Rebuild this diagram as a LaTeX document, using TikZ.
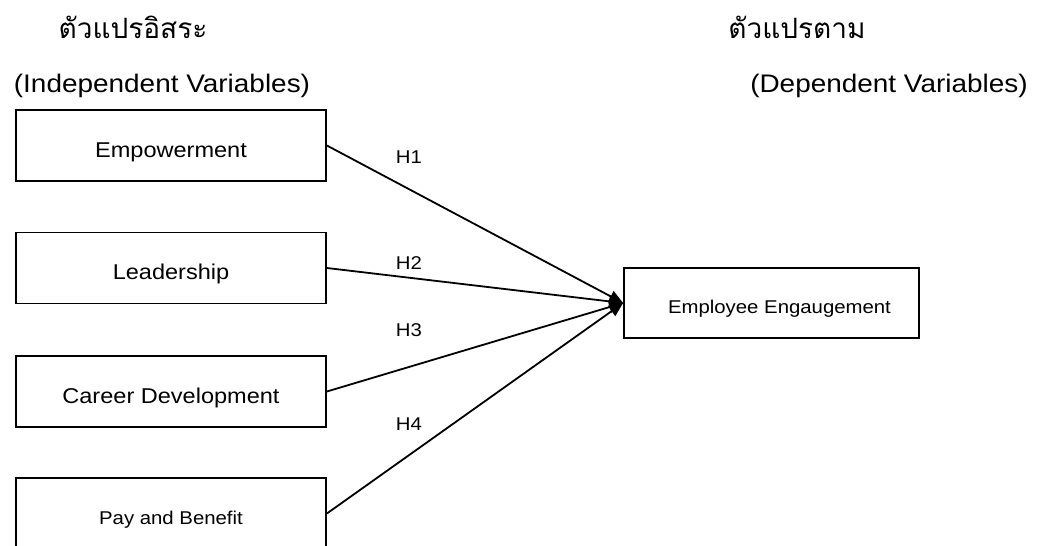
\documentclass[tikz,border=0pt]{standalone}
\usepackage{fontspec}
\setmainfont{Liberation Sans}[FakeStretch=1.1]
\newfontfamily\thaifont[Script=Thai]{Loma}
\usetikzlibrary{arrows.meta}
\begin{document}
\begin{tikzpicture}[x=1pt,y=-1pt,
  varbox/.style={draw, line width=1.8pt, inner sep=0pt, minimum width=310pt, minimum height=71pt, text depth=0pt},
  bigtxt/.style={font=\fontsize{21.4}{25}\selectfont, text height=23pt},
  smalltxt/.style={font=\fontsize{18.5}{22}\selectfont, text height=21pt},
  headtxt/.style={font=\fontsize{25.4}{30}\selectfont},
  thaitxt/.style={font=\thaifont\fontsize{28}{34}\selectfont},
  hyp/.style={draw, line width=1.8pt, -{Triangle[length=14pt,width=12pt]}},
  hlabel/.style={font=\fontsize{18.5}{22}\selectfont, inner sep=0pt}]
\useasboundingbox (0,0) rectangle (1037,546);
\node[thaitxt] (th1) at (133,27) {ตัวแปรอิสระ};
\node[headtxt] (ind) at (162,86) {(Independent Variables)};
\node[thaitxt] (th2) at (797,27) {ตัวแปรตาม};
\node[headtxt] (dep) at (889,86) {(Dependent Variables)};
\node[varbox, bigtxt] (emp) at (171,145.5) {Empowerment};
\node[varbox, bigtxt] (lead) at (171,268) {Leadership};
\node[varbox, bigtxt] (car) at (171,391.5) {Career Development};
\node[varbox, smalltxt] (pay) at (171,513.5) {Pay and Benefit};
\node[varbox, smalltxt, minimum width=295pt, minimum height=70pt, text height=20pt] (eng) at (771.5,303) {\hspace*{16pt}Employee Engaugement};
\draw[hyp] (emp.east) -- (eng.west);
\draw[hyp] (lead.east) -- (eng.west);
\draw[hyp] (car.east) -- (eng.west);
\draw[hyp] (pay.east) -- (eng.west);
\node[hlabel] (h1) at (409,157) {H1};
\node[hlabel] (h2) at (409,263) {H2};
\node[hlabel] (h3) at (409,330) {H3};
\node[hlabel] (h4) at (409,424) {H4};
\end{tikzpicture}
\end{document}
